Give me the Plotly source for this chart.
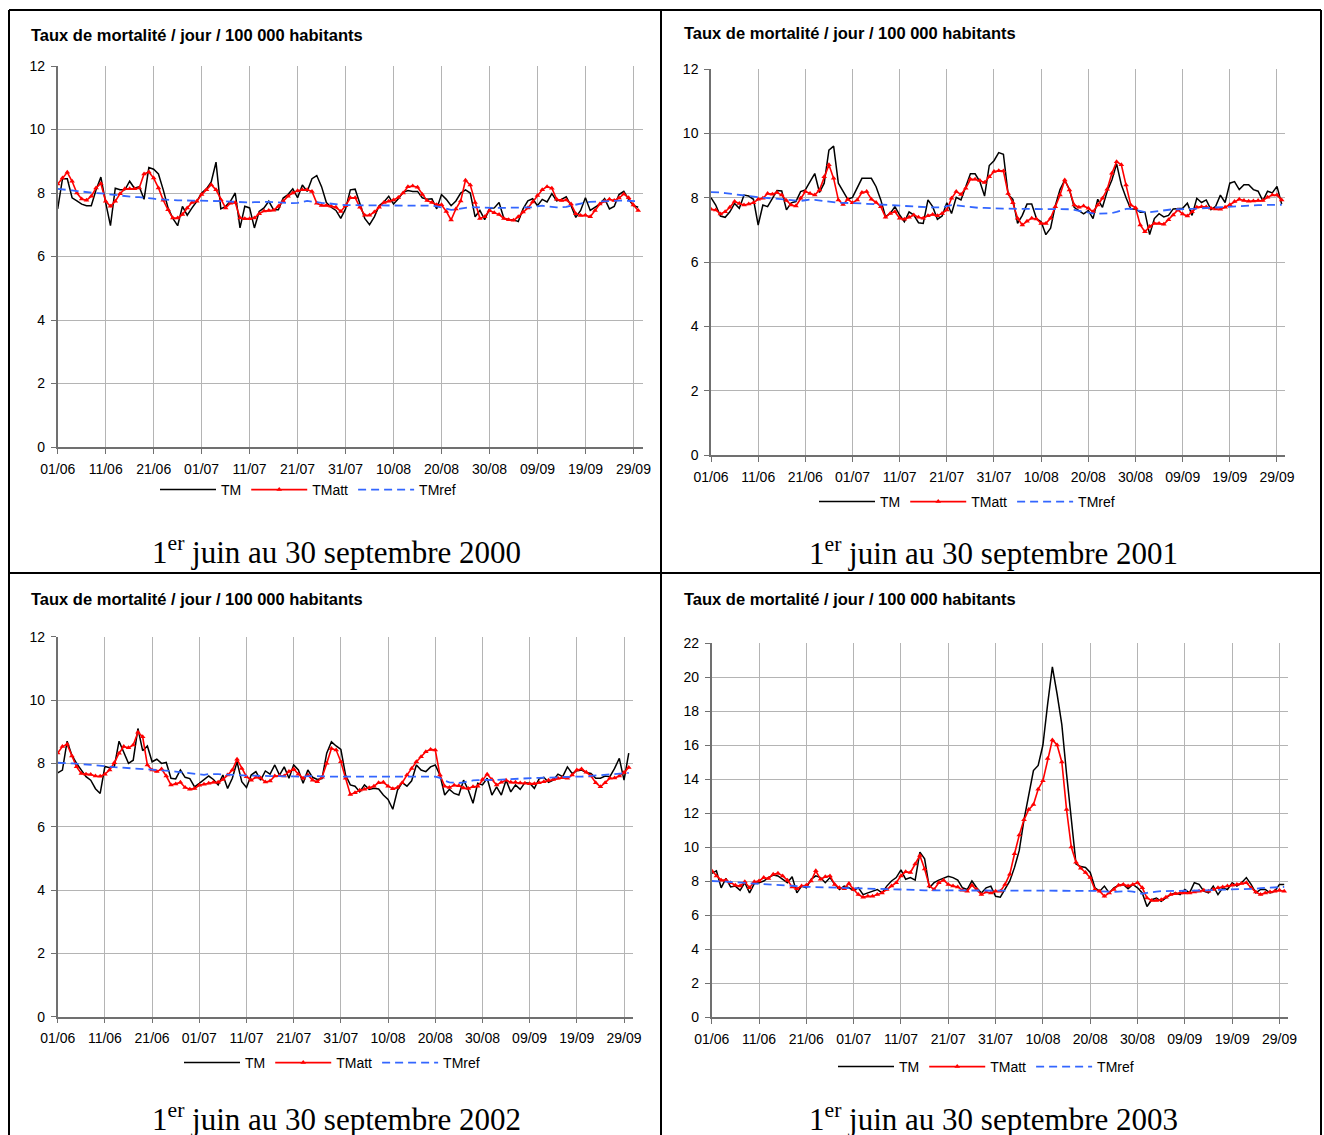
import plotly.graph_objects as go

W, H = 1324, 1135

days = list(range(122))
tick_vals = [0, 10, 20, 30, 40, 50, 60, 70, 80, 90, 100, 110, 120]
tick_text = ["01/06", "11/06", "21/06", "01/07", "11/07", "21/07", "31/07",
             "10/08", "20/08", "30/08", "09/09", "19/09", "29/09"]
series_names = ["TM", "TMatt", "TMref"]
panel_title = "Taux de mortalité / jour / 100 000 habitants"
captions = ["1<sup>er</sup> juin au 30 septembre 2000",
            "1<sup>er</sup> juin au 30 septembre 2001",
            "1<sup>er</sup> juin au 30 septembre 2002",
            "1<sup>er</sup> juin au 30 septembre 2003"]

# ---------------- 2000 ----------------
tm_2000 = [7.5, 8.45, 8.45, 7.85, 7.75, 7.65, 7.6, 7.6, 8.1, 8.5,
           7.7, 6.97, 8.15, 8.1, 8.1, 8.37, 8.15, 8.2, 7.8, 8.8,
           8.75, 8.6, 8.1, 7.53, 7.2, 6.97, 7.58, 7.3, 7.53, 7.74,
           8.0, 8.13, 8.35, 8.97, 7.5, 7.58, 7.74, 8.0, 6.9, 7.58,
           7.53, 6.9, 7.42, 7.53, 7.74, 7.47, 7.47, 7.84, 7.95, 8.13,
           7.85, 8.25, 8.05, 8.45, 8.55, 8.2, 7.7, 7.55, 7.45, 7.2,
           7.5, 8.1, 8.12, 7.65, 7.2, 7.0, 7.25, 7.6, 7.72, 7.9,
           7.65, 7.82, 8.02, 8.08, 8.05, 8.05, 7.85, 7.8, 7.82, 7.5,
           7.95, 7.8, 7.6, 7.75, 8.0, 8.1, 8.0, 7.25, 7.45, 7.16,
           7.5, 7.53, 7.7, 7.2, 7.16, 7.16, 7.1, 7.5, 7.75, 7.82,
           7.6, 7.8, 7.72, 7.98, 7.75, 7.8, 7.88, 7.6, 7.23, 7.45,
           7.85, 7.45, 7.55, 7.65, 7.82, 7.5, 7.58, 7.95, 8.05, 7.8,
           7.6, 7.55]
att_2000 = [8.28, 8.47, 8.65, 8.37, 8.0, 7.81, 7.77, 7.9, 8.16, 8.3,
            7.74, 7.58, 7.74, 7.98, 8.13, 8.13, 8.13, 8.16, 8.6, 8.66,
            8.47, 8.16, 7.77, 7.47, 7.21, 7.21, 7.32, 7.53, 7.7, 7.74,
            7.95, 8.1, 8.26, 8.1, 7.79, 7.53, 7.68, 7.7, 7.21, 7.19,
            7.19, 7.21, 7.35, 7.43, 7.45, 7.46, 7.58, 7.74, 7.9, 8.0,
            8.07, 8.1, 8.1, 8.05, 7.68, 7.61, 7.61, 7.58, 7.55, 7.42,
            7.6, 7.85, 7.85, 7.55, 7.3, 7.3, 7.4, 7.55, 7.7, 7.74,
            7.78, 7.86, 8.0, 8.2, 8.22, 8.18, 7.95, 7.76, 7.7, 7.63,
            7.63, 7.42, 7.15, 7.5, 7.75, 8.4, 8.25, 7.7, 7.2, 7.25,
            7.45, 7.38, 7.32, 7.2, 7.16, 7.14, 7.25, 7.4, 7.53, 7.72,
            7.92, 8.1, 8.2, 8.15, 7.8, 7.76, 7.78, 7.65, 7.35, 7.29,
            7.3, 7.25, 7.45, 7.65, 7.74, 7.8, 7.76, 7.84, 7.97, 7.85,
            7.62, 7.45]
ref_2000 = [8.13, 8.12, 8.1, 8.08, 8.06, 8.04, 8.02, 8.01, 8.0, 7.99,
            7.97, 7.96, 7.95, 7.93, 7.9, 7.88, 7.87, 7.87, 7.86, 7.84,
            7.82, 7.8, 7.8, 7.79, 7.78, 7.77, 7.76, 7.76, 7.76, 7.76,
            7.76, 7.75, 7.75, 7.75, 7.74, 7.74, 7.73, 7.72, 7.7, 7.7,
            7.7, 7.71, 7.72, 7.72, 7.72, 7.71, 7.7, 7.69, 7.68, 7.68,
            7.69, 7.72, 7.75, 7.73, 7.7, 7.69, 7.68, 7.66, 7.64, 7.63,
            7.62, 7.62, 7.61, 7.61, 7.61, 7.61, 7.61, 7.61, 7.61, 7.61,
            7.61, 7.61, 7.61, 7.61, 7.61, 7.61, 7.61, 7.61, 7.6, 7.58,
            7.55, 7.5, 7.47, 7.48, 7.5, 7.54, 7.56, 7.55, 7.54, 7.53,
            7.53, 7.53, 7.53, 7.53, 7.53, 7.53, 7.53, 7.53, 7.53, 7.55,
            7.58, 7.6, 7.58, 7.56, 7.55, 7.55, 7.56, 7.6, 7.64, 7.68,
            7.7, 7.72, 7.73, 7.74, 7.75, 7.76, 7.76, 7.76, 7.76, 7.76,
            7.75, 7.74]

# ---------------- 2001 ----------------
tm_2001 = [8.0, 7.77, 7.43, 7.39, 7.56, 7.82, 7.67, 8.08, 8.05, 7.95,
           7.15, 7.77, 7.72, 7.98, 8.22, 8.21, 7.62, 7.84, 7.88, 8.19,
           8.24, 8.5, 8.75, 8.16, 8.45, 9.48, 9.6, 8.45, 8.19, 7.95,
           8.01, 8.32, 8.6, 8.6, 8.6, 8.34, 7.93, 7.41, 7.51, 7.72,
           7.46, 7.25, 7.56, 7.46, 7.22, 7.2, 7.93, 7.72, 7.33, 7.43,
           7.84, 7.51, 8.01, 7.93, 8.34, 8.74, 8.74, 8.5, 8.05, 9.0,
           9.15, 9.4, 9.35, 8.1, 7.95, 7.2, 7.45, 7.8, 7.8, 7.35,
           7.25, 6.85, 7.05, 7.75, 8.25, 8.55, 8.25, 7.7, 7.6, 7.5,
           7.6, 7.35, 7.95, 7.7, 8.2, 8.55, 9.05, 8.4, 8.0, 7.65,
           7.65, 7.55, 7.55, 6.85, 7.35, 7.5, 7.4, 7.45, 7.65, 7.65,
           7.67, 7.83, 7.45, 7.98, 7.85, 7.93, 7.63, 7.73, 8.08, 7.85,
           8.45, 8.5, 8.25, 8.4, 8.4, 8.25, 8.2, 7.9, 8.2, 8.15,
           8.35, 7.8]
att_2001 = [7.64, 7.62, 7.49, 7.56, 7.7, 7.88, 7.82, 7.77, 7.8, 7.84,
            7.95, 7.98, 8.13, 8.11, 8.16, 8.08, 7.91, 7.77, 7.74, 7.98,
            8.19, 8.13, 8.08, 8.24, 8.65, 9.02, 8.6, 7.93, 7.79, 7.95,
            7.84, 7.93, 8.16, 8.19, 7.95, 7.85, 7.72, 7.39, 7.51, 7.56,
            7.36, 7.33, 7.39, 7.46, 7.39, 7.36, 7.44, 7.48, 7.44, 7.51,
            7.62, 7.98, 8.19, 8.1, 8.29, 8.57, 8.57, 8.53, 8.47, 8.65,
            8.81, 8.84, 8.83, 8.13, 7.84, 7.36, 7.15, 7.27, 7.36, 7.34,
            7.2, 7.2, 7.36, 7.72, 8.08, 8.55, 8.24, 7.77, 7.7, 7.74,
            7.67, 7.56, 7.77, 7.98, 8.26, 8.76, 9.12, 9.02, 8.39, 7.77,
            7.69, 7.15, 6.94, 7.1, 7.2, 7.2, 7.17, 7.31, 7.46, 7.62,
            7.49, 7.43, 7.56, 7.7, 7.72, 7.71, 7.67, 7.65, 7.64, 7.7,
            7.78, 7.88, 7.95, 7.91, 7.89, 7.9, 7.91, 7.91, 8.01, 8.08,
            8.08, 7.93]
ref_2001 = [8.17, 8.17, 8.16, 8.14, 8.12, 8.1, 8.08, 8.06, 8.05, 8.04,
            8.02, 8.0, 7.99, 7.98, 7.97, 7.96, 7.95, 7.93, 7.91, 7.9,
            7.92, 7.94, 7.93, 7.91, 7.89, 7.86, 7.85, 7.84, 7.84, 7.84,
            7.84, 7.83, 7.82, 7.81, 7.8, 7.79, 7.78, 7.77, 7.76, 7.75,
            7.75, 7.74, 7.73, 7.72, 7.71, 7.71, 7.7, 7.7, 7.69, 7.7,
            7.74, 7.77, 7.76, 7.74, 7.72, 7.7, 7.69, 7.68, 7.68, 7.67,
            7.67, 7.67, 7.66, 7.66, 7.65, 7.65, 7.65, 7.65, 7.65, 7.65,
            7.65, 7.65, 7.65, 7.65, 7.65, 7.65, 7.64, 7.62, 7.59, 7.56,
            7.53, 7.51, 7.5, 7.5, 7.5, 7.52, 7.56, 7.6, 7.65, 7.66,
            7.63, 7.58, 7.55, 7.55, 7.57, 7.6, 7.62, 7.64, 7.64, 7.64,
            7.64, 7.64, 7.65, 7.66, 7.67, 7.68, 7.69, 7.7, 7.71, 7.72,
            7.72, 7.73, 7.74, 7.75, 7.76, 7.77, 7.77, 7.77, 7.78, 7.78,
            7.78, 7.78]

# ---------------- 2002 ----------------
tm_2002 = [7.7, 7.79, 8.7, 8.26, 8.0, 7.77, 7.58, 7.47, 7.2, 7.05,
           7.9, 7.86, 7.9, 8.7, 8.35, 8.0, 8.1, 9.1, 8.4, 8.55,
           8.05, 8.13, 8.0, 8.03, 7.53, 7.51, 7.79, 7.56, 7.52, 7.26,
           7.37, 7.49, 7.6, 7.49, 7.32, 7.63, 7.21, 7.53, 8.05, 7.42,
           7.24, 7.63, 7.74, 7.47, 7.76, 7.66, 7.95, 7.63, 7.89, 7.53,
           7.95, 7.79, 7.37, 7.79, 7.56, 7.49, 7.52, 8.32, 8.68, 8.55,
           8.44, 7.63, 7.32, 7.28, 7.1, 7.32, 7.18, 7.21, 7.19, 7.0,
           6.86, 6.55, 7.16, 7.39, 7.28, 7.45, 7.95, 7.79, 7.74, 7.89,
           7.95, 7.63, 7.0, 7.18, 7.05, 7.0, 7.47, 7.16, 6.74, 7.37,
           7.32, 7.53, 7.0, 7.26, 7.0, 7.47, 7.1, 7.32, 7.18, 7.39,
           7.37, 7.21, 7.51, 7.56, 7.4, 7.47, 7.66, 7.58, 7.89, 7.68,
           7.77, 7.79, 7.71, 7.68, 7.53, 7.53, 7.6, 7.58, 7.84, 8.16,
           7.47, 8.32]
att_2002 = [8.33, 8.53, 8.6, 8.23, 7.89, 7.68, 7.66, 7.65, 7.6, 7.59,
            7.66, 7.79, 8.02, 8.32, 8.53, 8.49, 8.58, 8.98, 8.84, 7.95,
            7.79, 7.74, 7.82, 7.6, 7.32, 7.35, 7.4, 7.24, 7.18, 7.21,
            7.31, 7.34, 7.37, 7.4, 7.4, 7.49, 7.63, 7.79, 8.13, 7.84,
            7.58, 7.47, 7.56, 7.54, 7.41, 7.44, 7.6, 7.61, 7.6, 7.74,
            7.82, 7.66, 7.53, 7.63, 7.47, 7.42, 7.56, 8.0, 8.47, 8.42,
            8.05, 7.53, 7.02, 7.07, 7.15, 7.18, 7.23, 7.28, 7.39, 7.4,
            7.28, 7.2, 7.24, 7.39, 7.63, 7.84, 8.05, 8.21, 8.37, 8.44,
            8.42, 7.63, 7.28, 7.24, 7.31, 7.29, 7.22, 7.21, 7.26, 7.28,
            7.49, 7.66, 7.49, 7.32, 7.4, 7.47, 7.4, 7.4, 7.38, 7.37,
            7.36, 7.36, 7.39, 7.42, 7.47, 7.49, 7.53, 7.55, 7.53, 7.63,
            7.79, 7.82, 7.72, 7.6, 7.39, 7.26, 7.39, 7.53, 7.54, 7.6,
            7.71, 7.87]
ref_2002 = [8.02, 8.02, 8.01, 8.0, 7.99, 7.98, 7.96, 7.95, 7.93, 7.92,
            7.91, 7.9, 7.88, 7.87, 7.86, 7.85, 7.85, 7.85, 7.84, 7.83,
            7.82, 7.8, 7.79, 7.78, 7.76, 7.74, 7.72, 7.7, 7.68, 7.66,
            7.64, 7.64, 7.66, 7.67, 7.66, 7.65, 7.64, 7.63, 7.62, 7.62,
            7.61, 7.61, 7.61, 7.6, 7.6, 7.6, 7.6, 7.59, 7.59, 7.59,
            7.59, 7.58, 7.58, 7.6, 7.61, 7.6, 7.59, 7.58, 7.58, 7.58,
            7.58, 7.58, 7.58, 7.58, 7.58, 7.58, 7.58, 7.58, 7.58, 7.58,
            7.58, 7.58, 7.58, 7.58, 7.58, 7.58, 7.58, 7.58, 7.58, 7.58,
            7.58, 7.54, 7.45, 7.4, 7.38, 7.38, 7.4, 7.44, 7.46, 7.47,
            7.48, 7.48, 7.48, 7.48, 7.49, 7.5, 7.51, 7.52, 7.53, 7.53,
            7.53, 7.54, 7.54, 7.54, 7.55, 7.55, 7.56, 7.57, 7.58, 7.58,
            7.58, 7.58, 7.59, 7.6, 7.62, 7.64, 7.65, 7.66, 7.67, 7.68,
            7.69, 7.7]

# ---------------- 2003 ----------------
tm_2003 = [8.45, 8.6, 7.6, 8.15, 7.65, 7.7, 7.45, 7.9, 7.3, 7.85,
           7.9, 8.0, 8.2, 8.35, 8.3, 8.1, 7.9, 8.25, 7.3, 7.7,
           7.6, 8.1, 8.3, 8.2, 7.9, 8.2, 7.8, 7.5, 7.7, 7.6,
           7.45, 7.6, 7.2, 7.3, 7.4, 7.5, 7.3, 7.7, 8.0, 8.2,
           8.65, 8.1, 8.2, 8.05, 9.7, 9.3, 7.6, 7.9, 8.05, 8.15,
           8.28, 8.2, 8.05, 7.6, 7.5, 8.0, 7.6, 7.3, 7.6, 7.7,
           7.1, 7.05, 7.5, 8.0, 8.8, 9.8, 11.6, 13.0, 14.5, 14.8,
           16.0, 18.4, 20.6, 19.0, 17.2, 14.3, 11.5, 9.0, 8.85, 8.8,
           8.5, 7.6, 7.4, 7.7, 7.3, 7.6, 7.75, 7.8, 7.55, 7.8,
           7.6, 7.3, 6.5, 6.9, 7.0, 6.8, 7.0, 7.2, 7.3, 7.2,
           7.5, 7.3, 7.9, 7.8, 7.4, 7.3, 7.7, 7.2, 7.6, 7.5,
           7.9, 7.7, 7.9, 8.2, 7.8, 7.3, 7.5, 7.5, 7.3, 7.4,
           7.8, 7.8]
att_2003 = [8.6, 8.3, 8.05, 8.05, 7.9, 7.75, 7.7, 7.95, 7.6, 7.95,
            8.0, 8.2, 8.15, 8.4, 8.45, 8.3, 8.05, 7.65, 7.55, 7.7,
            7.75, 8.0, 8.6, 8.1, 8.25, 8.3, 7.8, 7.6, 7.55, 7.85,
            7.5, 7.2, 7.05, 7.1, 7.1, 7.2, 7.3, 7.5, 7.7, 7.9,
            8.3, 8.55, 8.5, 9.0, 9.5, 8.7, 7.7, 7.5, 7.9, 8.05,
            7.8, 7.7, 7.65, 7.45, 7.4, 7.75, 7.5, 7.2, 7.35, 7.3,
            7.4, 7.4, 7.8, 8.4, 9.6, 10.7, 11.6, 12.2, 12.5, 13.4,
            13.9, 15.2, 16.3, 16.0, 15.0, 12.2, 10.0, 9.1, 8.75, 8.5,
            8.2, 7.5, 7.4, 7.1, 7.3, 7.5, 7.75, 7.8, 7.7, 7.8,
            7.9, 7.6, 7.0, 6.85, 6.85, 6.9, 7.05, 7.2, 7.25, 7.3,
            7.3, 7.3, 7.35, 7.4, 7.45, 7.4, 7.5, 7.6, 7.65, 7.7,
            7.75, 7.8, 7.85, 7.9, 7.6, 7.35, 7.2, 7.3, 7.35, 7.4,
            7.45, 7.4]
ref_2003 = [8.0, 8.0, 7.98, 7.96, 7.94, 7.92, 7.9, 7.88, 7.86, 7.84,
            7.82, 7.8, 7.78, 7.76, 7.74, 7.72, 7.7, 7.69, 7.68, 7.67,
            7.66, 7.65, 7.64, 7.63, 7.62, 7.61, 7.6, 7.59, 7.58, 7.57,
            7.56, 7.55, 7.54, 7.53, 7.52, 7.51, 7.5, 7.5, 7.5, 7.5,
            7.5, 7.5, 7.48, 7.46, 7.45, 7.45, 7.45, 7.45, 7.44, 7.43,
            7.42, 7.42, 7.42, 7.42, 7.42, 7.42, 7.42, 7.42, 7.42, 7.42,
            7.42, 7.42, 7.42, 7.42, 7.42, 7.42, 7.42, 7.42, 7.42, 7.42,
            7.42, 7.42, 7.42, 7.42, 7.42, 7.42, 7.42, 7.42, 7.42, 7.42,
            7.42, 7.42, 7.4, 7.38, 7.36, 7.36, 7.38, 7.4, 7.4, 7.38,
            7.3, 7.25, 7.3, 7.35, 7.38, 7.4, 7.4, 7.4, 7.4, 7.4,
            7.4, 7.4, 7.42, 7.44, 7.45, 7.46, 7.47, 7.48, 7.49, 7.5,
            7.5, 7.5, 7.5, 7.5, 7.52, 7.55, 7.58, 7.6, 7.62, 7.63,
            7.64, 7.65]

data = [(tm_2000, att_2000, ref_2000), (tm_2001, att_2001, ref_2001),
        (tm_2002, att_2002, ref_2002), (tm_2003, att_2003, ref_2003)]

# ---------------- layout geometry (pixels) ----------------
def px(x):
    return x / W

def py(y):
    return 1 - y / H

panels = [
    dict(x0=57.7, x1=643, ytop=66, ybot=447, xmax=122.0, ymax=12,
         title=(29, 35), legend=(308, 490), caption=(336, 550)),
    dict(x0=711, x1=1285, ytop=69, ybot=455, xmax=121.7, ymax=12,
         title=(682, 33), legend=(967, 502), caption=(993, 551)),
    dict(x0=57.7, x1=633, ytop=636.7, ybot=1016.7, xmax=121.9, ymax=12,
         title=(29, 599), legend=(332, 1063), caption=(336, 1117)),
    dict(x0=711.7, x1=1288, ytop=643, ybot=1017, xmax=121.8, ymax=22,
         title=(682, 599), legend=(986, 1067), caption=(993, 1117)),
]

FONT = "Liberation Sans, Arial, sans-serif"
SERIF = "Liberation Serif, Times New Roman, serif"
GRID = "#b4b4b4"
AXIS = "#707070"

fig = go.Figure()
layout = dict(width=W, height=H, autosize=False,
              margin=dict(l=0, r=0, t=0, b=0, pad=0, autoexpand=False),
              paper_bgcolor="white", plot_bgcolor="white",
              showlegend=True, annotations=[], shapes=[])

for i, (p, (tm, att, ref)) in enumerate(zip(panels, data)):
    n = i + 1
    xa = "x" if n == 1 else f"x{n}"
    ya = "y" if n == 1 else f"y{n}"
    lg = "legend" if n == 1 else f"legend{n}"

    fig.add_trace(go.Scatter(x=days, y=tm, mode="lines", name=series_names[0],
                             line=dict(color="black", width=1.5),
                             xaxis=xa, yaxis=ya, legend=lg))
    fig.add_trace(go.Scatter(x=days, y=att, mode="lines+markers", name=series_names[1],
                             line=dict(color="#ff0000", width=1.6),
                             marker=dict(symbol="triangle-up", size=5, color="#ff0000"),
                             xaxis=xa, yaxis=ya, legend=lg))
    fig.add_trace(go.Scatter(x=days, y=ref, mode="lines", name=series_names[2],
                             line=dict(color="#3366ff", width=1.8, dash="8px,5px"),
                             xaxis=xa, yaxis=ya, legend=lg))

    xkey = "xaxis" if n == 1 else f"xaxis{n}"
    ykey = "yaxis" if n == 1 else f"yaxis{n}"
    layout[xkey] = dict(domain=[px(p["x0"]), px(p["x1"])], range=[0, p["xmax"]],
                        anchor=ya, tickmode="array", tickvals=tick_vals, ticktext=tick_text,
                        showgrid=True, gridcolor=GRID, gridwidth=1,
                        showline=True, linecolor=AXIS, linewidth=1.5,
                        ticks="outside", ticklen=5, tickcolor=AXIS,
                        ticklabelstandoff=3, zeroline=False, automargin=False,
                        tickfont=dict(family=FONT, size=14, color="black"))
    layout[ykey] = dict(domain=[py(p["ybot"]), py(p["ytop"])], range=[0, p["ymax"]],
                        anchor=xa, tickmode="linear", tick0=0, dtick=2,
                        showgrid=True, gridcolor=GRID, gridwidth=1,
                        showline=True, linecolor=AXIS, linewidth=1.5,
                        ticks="outside", ticklen=5, tickcolor=AXIS,
                        ticklabelstandoff=3, zeroline=False, automargin=False,
                        tickfont=dict(family=FONT, size=14, color="black"))
    layout[lg] = dict(orientation="h", x=px(p["legend"][0]), y=py(p["legend"][1]),
                      xanchor="center", yanchor="middle", bgcolor="rgba(0,0,0,0)",
                      itemwidth=56, font=dict(family=FONT, size=14, color="black"),
                      tracegroupgap=0)

    layout["annotations"].append(dict(text=f"<b>{panel_title}</b>", xref="paper", yref="paper",
                                      x=px(p["title"][0]), y=py(p["title"][1]),
                                      xanchor="left", yanchor="middle", showarrow=False,
                                      font=dict(family=FONT, size=16.5, color="black")))
    layout["annotations"].append(dict(text=captions[i], xref="paper", yref="paper",
                                      x=px(p["caption"][0]), y=py(p["caption"][1]),
                                      xanchor="center", yanchor="middle", showarrow=False,
                                      font=dict(family=SERIF, size=31, color="black")))

# table borders
border = dict(color="black", width=2)
for (x0, y0, x1, y1) in [(9, 10, 1321, 10), (9, 573, 1321, 573),
                         (9, 10, 9, 1135), (661, 10, 661, 1135), (1321, 10, 1321, 1135)]:
    layout["shapes"].append(dict(type="line", xref="paper", yref="paper",
                                 x0=px(x0), y0=py(y0), x1=px(x1), y1=py(y1), line=border))

fig.update_layout(**layout)
fig.write_html("out.html",
               config={"displayModeBar": False},
               post_script="document.body.style.margin='0';document.body.style.overflow='hidden';")
